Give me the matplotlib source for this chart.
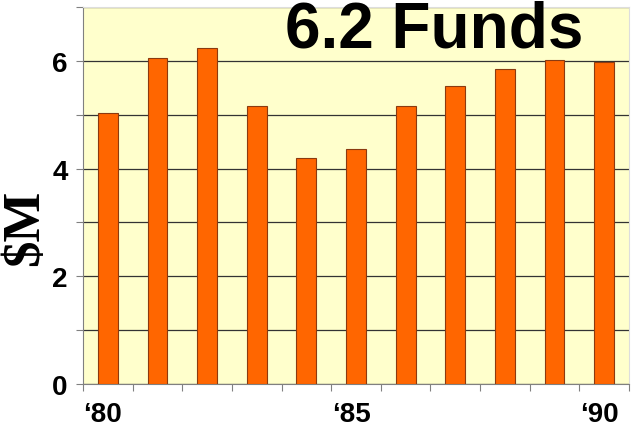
import matplotlib
matplotlib.use('Agg')
from matplotlib import pyplot as plt
import numpy as np

years = ['80', '81', '82', '83', '84', '85', '86', '87', '88', '89', '90']
funds = [5.04, 6.06, 6.23, 5.17, 4.20, 4.37, 5.17, 5.54, 5.84, 6.02, 5.97]
tick_labels = {0: '\u201880', 5: '\u201885', 10: '\u201890'}

fig = plt.figure(figsize=(6.32, 4.31), dpi=100)
ax = fig.add_axes([83 / 632, 1 - 385 / 431, 546 / 632, 377 / 431])
ax.set_facecolor('#ffffcc')

x = np.arange(len(years))
ax.bar(x, funds, width=0.4, color='#ff6600', edgecolor='#8b3a10',
       linewidth=0.8, zorder=3)

ax.set_xlim(-0.5, len(years) - 0.5)
ax.set_ylim(0, 7)

# gridlines every 1, labels every 2
ax.set_yticks(range(0, 8))
ax.set_yticklabels(['0', '', '2', '', '4', '', '6', ''])
ax.yaxis.grid(True, color='#333333', linewidth=0.9, zorder=1)
ax.tick_params(axis='y', length=5, color='#808080', pad=6)
for lbl in ax.get_yticklabels():
    lbl.set_fontfamily('Liberation Sans')
    lbl.set_fontweight('bold')
    lbl.set_fontsize(20)

# x ticks on category boundaries, labels centred in categories
ax.set_xticks(np.arange(-0.5, len(years)))
ax.set_xticklabels([])
ax.tick_params(axis='x', length=5, color='#808080')
for i, t in tick_labels.items():
    ax.text(i - 0.1, -0.31, t, ha='center', va='top', fontsize=20,
            fontweight='bold', family='Liberation Sans')

ax.spines['left'].set_color('#808080')
ax.spines['bottom'].set_color('#808080')
ax.spines['top'].set_color('#dddddd')
ax.spines['right'].set_color('#dddddd')

fig.text(1 / 632, 1 - 228 / 431, '$M', rotation=90, ha='left', va='center',
         fontsize=38, fontweight='bold', family='Liberation Serif')

fig.text(285 / 632, 1 - 47 / 431, '6.2 Funds', ha='left', va='baseline',
         fontsize=46, fontweight='bold', family='Liberation Sans')

fig.savefig('out.png', dpi=100)
